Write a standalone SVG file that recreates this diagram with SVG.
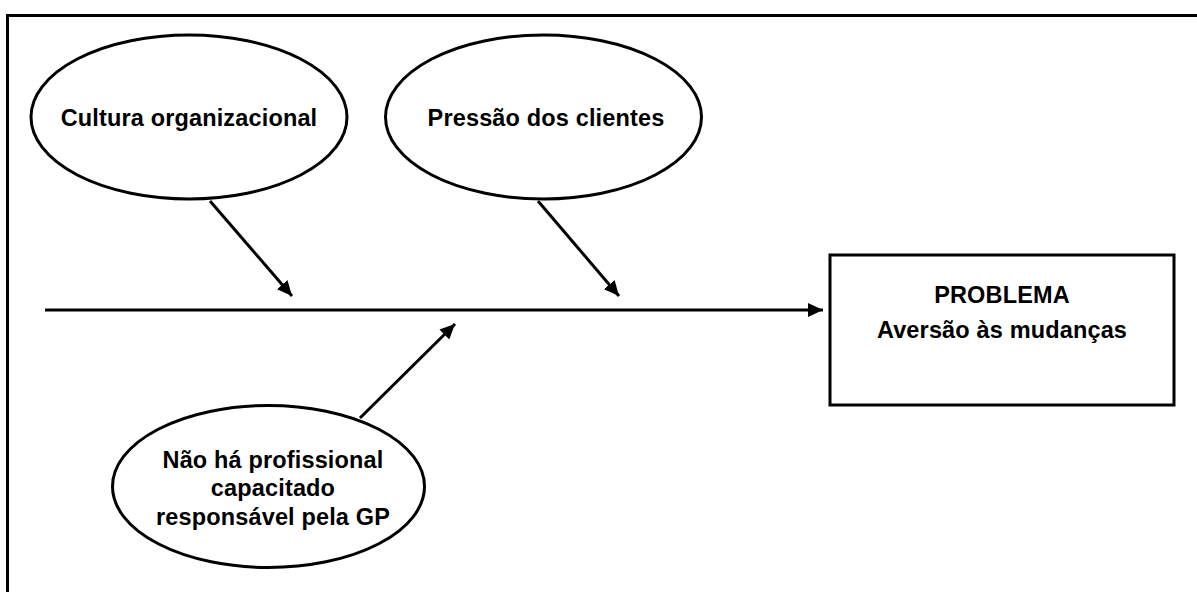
<svg xmlns="http://www.w3.org/2000/svg" width="1197" height="592" viewBox="0 0 1197 592">
<style>
.shape{fill:#fff;stroke:#000;stroke-width:3}
.frame{fill:none;stroke:#000;stroke-width:3}
.conn{stroke:#000;stroke-width:3;fill:none}
.lbl{font-family:"Liberation Sans",Arial,sans-serif;font-weight:bold;font-size:23.5px;letter-spacing:0.15px;fill:#000;text-anchor:middle}
</style>
<defs>
<marker id="ah" markerUnits="userSpaceOnUse" markerWidth="16" markerHeight="14" refX="15" refY="7" orient="auto">
<path d="M0,0 L15,7 L0,14 z" fill="#000"/>
</marker>
</defs>
<rect width="1197" height="592" fill="#fff"/>
<path class="frame" d="M7.5,592 V15.5 H1197"/>
<g id="connectors">
<line class="conn" x1="45" y1="310" x2="823" y2="310" marker-end="url(#ah)"/>
<line class="conn" x1="210" y1="201" x2="292" y2="296" marker-end="url(#ah)"/>
<line class="conn" x1="538" y1="201" x2="619" y2="296" marker-end="url(#ah)"/>
<line class="conn" x1="360" y1="418" x2="455" y2="324" marker-end="url(#ah)"/>
</g>
<g id="cultura">
<ellipse class="shape" cx="189" cy="117" rx="158" ry="82"/>
<text class="lbl" x="189" y="126">Cultura organizacional</text>
</g>
<g id="pressao">
<ellipse class="shape" cx="543.5" cy="117" rx="158" ry="82"/>
<text class="lbl" x="546" y="126">Pressão dos clientes</text>
</g>
<g id="profissional">
<ellipse class="shape" cx="268.5" cy="486.5" rx="156" ry="81"/>
<text class="lbl" x="273" y="468">Não há profissional</text>
<text class="lbl" x="273" y="496">capacitado</text>
<text class="lbl" x="273" y="525">responsável pela GP</text>
</g>
<g id="problema">
<rect class="shape" x="830" y="255" width="344" height="150"/>
<text class="lbl" x="1002" y="303">PROBLEMA</text>
<text class="lbl" x="1002" y="338">Aversão às mudanças</text>
</g>
</svg>
